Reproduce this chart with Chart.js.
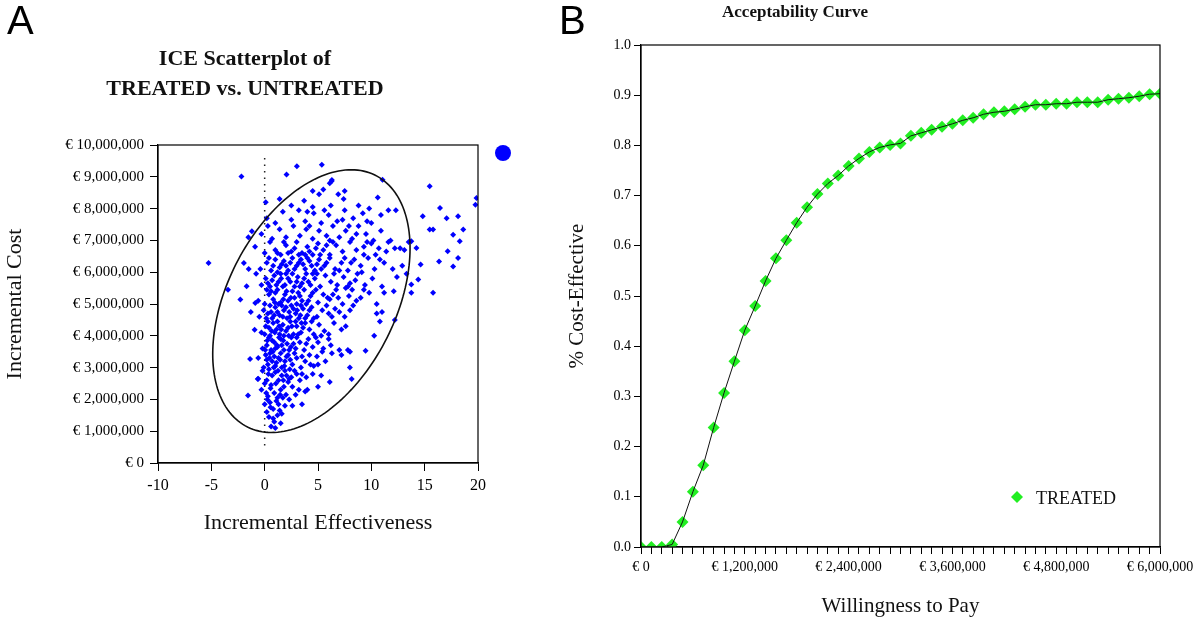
<!DOCTYPE html>
<html>
<head>
<meta charset="utf-8">
<script src="https://cdn.jsdelivr.net/npm/chart.js"></script>
<style>
  body { margin: 0; background: #fff; width: 1200px; height: 621px; overflow: hidden; position: relative; }
  canvas { position: absolute; top: 0; }
  .panel { position: absolute; font-family: "Liberation Sans", Arial, sans-serif; font-size: 40px; line-height: 40px; color: #000; }
  .title { position: absolute; font-family: "Liberation Serif", "Times New Roman", serif; font-weight: bold; color: #111; text-align: center; }
</style>
</head>
<body>
<canvas id="iceChart" width="560" height="621" style="left:0"></canvas>
<canvas id="ceacChart" width="640" height="621" style="left:560px"></canvas>

<div class="panel" style="left:7px;top:0">A</div>
<div class="panel" style="left:559px;top:0">B</div>
<div class="title" style="left:45px;top:43px;width:400px;font-size:22px;line-height:30px">ICE Scatterplot of<br>TREATED vs. UNTREATED</div>
<div class="title" style="left:645px;top:2px;width:300px;font-size:17px;line-height:20px">Acceptability Curve</div>

<script>
// ---- panel A: incremental effectiveness vs incremental cost (cost in € millions)
var icePairs = [
  // outliers
  [-2.18,9.01],[2.05,9.07],[3.02,9.33],[5.36,9.38],[6.27,8.86],[6.1,8.8],[11.05,8.91],[15.47,8.70],
  [19.86,8.33],[19.76,8.12],[16.44,8.02],[14.82,7.76],[17.06,7.70],[18.13,7.76],[15.47,7.34],[15.79,7.34],
  [17.67,7.18],[18.62,7.34],[18.29,6.97],[17.16,6.66],[18.13,6.45],[17.67,6.18],[16.35,6.34],[14.23,6.76],
  [13.75,6.97],[14.62,6.24],[14.4,5.77],[13.75,5.61],[13.75,5.35],[15.79,5.35],[12.2,4.5],[10.27,4.0],
  [9.46,3.53],[7.99,3.0],[8.16,2.64],[8.0,3.5],[-5.26,6.29],[-3.44,5.45],[-2.28,5.14],[-1.69,5.56],
  [-1.95,6.29],[-1.5,6.1],[-1.53,7.1],[-1.2,7.29],[-1.37,3.27],[-1.56,2.12],[-0.65,2.64],[-0.88,5.03],
  [-0.94,4.19],
  // main cloud
  [0.6,1.15],[1.0,1.1],[0.9,1.3],[1.5,1.25],[0.4,1.45],[1.2,1.5],[0.8,1.4],
  [0.2,1.6],[0.8,1.7],[1.4,1.65],[1.9,1.8],[0.5,1.9],[1.1,1.95],[2.6,1.8],[0.0,1.85],[1.6,1.55],[3.5,1.85],
  [0.3,2.1],[0.9,2.2],[1.5,2.3],[2.0,2.15],[2.6,2.4],[0.6,2.45],[1.2,2.05],[1.8,2.4],[3.2,2.3],[4.0,2.3],
  [5.0,2.4],[-0.3,2.3],[0.0,2.5],[2.3,2.0],[3.8,2.25],
  [-0.6,2.65],[0.2,2.6],[0.7,2.75],[1.3,2.6],[1.9,2.9],[2.5,2.7],[3.0,2.8],[3.5,2.8],[4.5,2.8],[5.3,2.75],
  [0.4,2.95],[1.0,2.85],[1.6,2.75],[2.2,2.55],[2.8,2.9],[6.1,2.55],[-0.2,2.9],
  [-0.1,3.0],[0.3,3.1],[0.7,3.2],[1.0,3.05],[1.3,3.3],[1.6,3.0],[1.9,3.2],[2.2,3.4],[2.6,3.1],[3.0,3.3],
  [3.4,3.0],[3.8,3.2],[4.2,3.4],[5.0,3.1],[5.7,3.2],[0.1,3.4],[0.5,3.45],[0.9,3.35],[1.5,3.45],[2.4,3.25],
  [2.8,3.45],[4.6,3.05],[6.3,3.45],[7.2,3.4],[-0.6,3.3],[1.1,3.15],[0.2,3.25],
  [-0.2,3.6],[0.2,3.7],[0.6,3.55],[0.9,3.8],[1.2,3.65],[1.5,3.9],[1.8,3.55],[2.1,3.75],[2.5,3.95],[2.9,3.6],
  [3.3,3.8],[3.7,3.55],[4.1,3.9],[4.5,3.65],[5.0,3.8],[5.5,3.6],[6.2,3.7],[7.0,3.55],[7.8,3.55],[0.4,3.95],
  [1.0,3.6],[1.6,3.7],[2.3,3.55],[3.0,3.95],[3.9,3.75],[0.7,3.85],[1.35,3.95],[2.7,3.75],[4.8,3.95],
  [-0.3,4.1],[0.1,4.3],[0.5,4.0],[0.8,4.4],[1.1,4.2],[1.4,4.05],[1.7,4.35],[2.0,4.15],[2.4,4.45],[2.7,4.05],
  [3.0,4.3],[3.4,4.1],[3.8,4.4],[4.2,4.2],[4.6,4.05],[5.1,4.35],[5.6,4.15],[6.5,4.4],[7.2,4.2],[7.6,4.3],
  [0.3,4.45],[1.2,4.45],[2.2,4.25],[3.6,4.25],[4.4,4.45],[6.0,4.05],[1.8,4.0],[2.9,4.45],
  [-0.5,4.6],[-0.1,4.8],[0.3,4.7],[0.7,4.55],[1.0,4.9],[1.4,4.65],[1.8,4.8],[2.1,4.55],[2.5,4.95],[2.9,4.7],
  [3.2,4.55],[3.6,4.85],[4.0,4.65],[4.4,4.9],[4.9,4.6],[5.4,4.8],[6.0,4.7],[6.6,4.85],[7.0,4.75],[7.5,4.6],
  [8.3,4.95],[10.5,4.7],[11.0,4.75],[10.8,4.45],[0.5,4.95],[1.6,4.95],[2.3,4.75],[3.4,4.95],[4.6,4.55],
  [5.8,4.95],[8.0,4.8],[-1.3,4.75],
  [-0.6,5.1],[0.0,5.0],[0.4,5.3],[0.8,5.15],[1.2,5.45],[1.5,5.05],[1.9,5.3],[2.2,5.1],[2.6,5.4],[3.0,5.0],
  [3.3,5.25],[3.7,5.45],[4.1,5.1],[4.5,5.35],[5.0,5.05],[5.5,5.3],[6.1,5.15],[6.7,5.45],[7.3,5.0],[7.9,5.25],
  [8.6,5.1],[9.3,5.45],[9.8,5.35],[10.5,5.0],[12.1,5.4],[0.2,5.45],[1.0,5.35],[2.8,5.2],[3.9,5.0],[4.8,5.45],
  [6.4,5.3],[8.2,5.45],[9.0,5.2],[11.2,5.35],
  [-0.3,5.6],[0.1,5.8],[0.5,5.55],[0.9,5.9],[1.3,5.7],[1.7,5.55],[2.0,5.95],[2.4,5.7],[2.8,5.55],[3.1,5.85],
  [3.5,5.65],[3.9,5.95],[4.3,5.6],[4.7,5.8],[5.2,5.55],[5.7,5.9],[6.2,5.7],[6.8,5.6],[7.4,5.85],[8.0,5.65],
  [8.7,5.95],[9.4,5.6],[10.1,5.8],[11.0,5.55],[12.4,5.85],[13.3,5.95],[-0.8,5.95],[1.5,5.95],[3.3,5.55],
  [4.9,5.95],[6.5,5.95],[7.8,5.55],
  [-0.4,6.1],[0.2,6.3],[0.6,6.05],[1.0,6.4],[1.4,6.15],[1.8,6.35],[2.2,6.05],[2.6,6.45],[3.0,6.2],[3.4,6.4],
  [3.8,6.1],[4.2,6.35],[4.7,6.05],[5.1,6.4],[5.6,6.2],[6.1,6.45],[6.6,6.1],[7.2,6.3],[7.8,6.05],[8.4,6.4],
  [9.0,6.2],[9.7,6.45],[10.3,6.1],[11.2,6.3],[12.0,6.1],[0.8,6.2],[2.4,6.3],[4.0,6.45],[5.8,6.3],[7.5,6.45],
  [10.8,6.4],[12.9,6.2],
  [-0.9,6.8],[0.0,6.6],[0.5,6.95],[1.0,6.7],[1.5,6.55],[2.0,6.85],[2.5,6.65],[3.0,6.95],[3.5,6.6],[4.0,6.8],
  [4.5,6.55],[5.0,6.9],[5.5,6.7],[6.1,6.55],[6.7,6.85],[7.3,6.65],[8.0,6.95],[8.6,6.7],[9.3,6.55],[10.0,6.9],
  [10.7,6.75],[11.6,6.95],[12.2,6.75],[12.7,6.75],[13.1,6.7],[1.8,6.95],[3.8,6.55],[6.4,6.95],[9.6,6.95],
  [-0.3,7.2],[0.7,7.05],[1.4,7.35],[2.0,7.1],[2.7,7.45],[3.3,7.15],[3.9,7.35],[4.5,7.05],[5.1,7.3],[5.8,7.15],
  [6.4,7.45],[7.0,7.1],[7.6,7.3],[8.2,7.05],[8.8,7.45],[9.5,7.2],[10.2,7.0],[10.9,7.3],[11.8,7.0],[13.5,6.95],
  [0.3,7.45],[4.2,7.45],[7.9,7.45],[6.1,7.0],
  [0.2,7.7],[1.0,7.55],[1.7,7.9],[2.5,7.65],[3.2,7.95],[3.8,7.6],[4.6,7.85],[5.3,7.55],[6.0,7.8],[6.8,7.6],
  [7.5,7.95],[8.3,7.7],[9.2,7.85],[10.0,7.55],[10.9,7.8],[11.6,7.95],[12.3,7.95],[4.0,7.9],[5.6,7.95],[9.6,7.6],
  [0.1,8.2],[1.4,8.3],[2.5,8.1],[3.7,8.25],[5.1,8.45],[6.9,8.45],[7.4,8.3],[8.8,8.1],[9.8,8.0],[10.6,8.35],
  [4.5,8.05],[6.2,8.1],
  [4.5,8.55],[5.5,8.6],[6.3,8.9],[7.5,8.55],
  // dense core
  [0.15,2.2],[0.55,2.35],[1.05,2.5],[1.45,2.15],[1.75,2.6],[2.05,2.75],[0.35,2.8],[0.85,3.0],[1.25,2.9],
  [1.85,3.05],[2.35,2.95],[0.05,3.55],[0.45,3.3],[0.75,3.5],[1.15,3.7],[1.45,3.25],[1.75,3.85],[2.05,3.35],
  [2.45,3.65],[0.25,3.85],[0.65,4.15],[0.95,4.1],[1.35,4.3],[1.55,4.2],[2.25,4.0],[2.55,4.3],[3.15,4.05],
  [3.45,4.4],[0.0,4.05],[0.4,4.25],[0.6,4.75],[0.9,4.65],[1.2,4.75],[1.7,4.6],[2.0,4.9],[2.4,4.6],[2.7,4.85],
  [3.05,4.8],[3.35,4.65],[3.8,4.55],[4.2,4.8],[0.15,4.55],[1.3,5.0],[1.75,5.15],[2.05,5.4],[2.45,5.2],
  [3.15,5.35],[3.5,5.1],[4.3,5.25],[0.6,5.4],[0.95,5.05],[1.1,5.6],[1.55,5.8],[1.9,5.6],[2.2,5.8],[2.6,5.95],
  [3.0,5.7],[3.7,5.8],[4.1,5.7],[4.5,5.95],[0.3,5.65],[0.7,5.75],[1.2,6.0],[1.6,6.25],[2.0,6.2],[2.8,6.1],
  [3.2,6.3],[3.6,6.25],[4.4,6.2],[4.9,6.25],[5.3,6.1],[0.4,6.45],[1.2,6.6],[2.2,6.6],[2.8,6.75],[3.2,6.55],
  [4.2,6.65],[4.8,6.75],[5.2,6.55],[5.8,6.85],[0.55,1.75],[1.3,1.85],[0.25,2.0],[1.7,2.05],[2.9,2.15],
  [2.3,2.65],[3.3,2.6],[3.9,2.7],[4.3,3.1],[4.9,3.35],[5.4,3.5],[3.5,3.35],[6.0,3.9],[5.3,4.0],[6.3,4.6],
  [5.9,5.2],[6.9,5.2],[7.6,5.5],[8.5,5.75],[9.1,6.0],[7.0,6.05],[8.1,6.3],[9.3,6.8],[10.4,6.55],[11.4,6.65],
  [8.6,7.2],[7.3,7.65]
];
var effTicks = [-10, 20];        // x range, step 5
var costTicksM = [0, 10];        // y range in € millions, step 1
var zeroLineX = [0, 0];          // dotted reference line at zero effectiveness
var zeroLineCostM = [0.55, 9.65];
// 95% confidence ellipse: centre and conjugate semi-axes in data units
var ellipseC = [4.38, 5.09];
var ellipseU = [9.25, 1.665];
var ellipseV = [0, 3.78];

// ---- panel B: acceptability curve (WTP in € thousands)
var wtpK = [0,120,240,360,480,600,720,840,960,1080,1200,1320,1440,1560,1680,1800,1920,2040,2160,2280,
  2400,2520,2640,2760,2880,3000,3120,3240,3360,3480,3600,3720,3840,3960,4080,4200,4320,4440,4560,4680,
  4800,4920,5040,5160,5280,5400,5520,5640,5760,5880,6000];
var pCostEff = [0.0,0.0,0.0,0.005,0.05,0.11,0.163,0.238,0.307,0.37,0.432,0.48,0.53,0.575,0.611,0.646,
  0.677,0.703,0.724,0.74,0.759,0.774,0.787,0.796,0.801,0.804,0.819,0.825,0.831,0.837,0.843,0.85,0.855,
  0.862,0.866,0.868,0.872,0.877,0.881,0.881,0.883,0.883,0.886,0.886,0.886,0.891,0.893,0.895,0.898,0.902,0.903];
var seriesName = 'TREATED';

function euro(v) {
  return '\u20AC ' + Math.round(v).toString().replace(/\B(?=(\d{3})+(?!\d))/g, ',');
}

var serif = '"Liberation Serif", "Times New Roman", serif';

// box round the plot area
var framePlugin = {
  id: 'frame',
  afterDatasetsDraw: function(chart) {
    var a = chart.chartArea, ctx = chart.ctx;
    ctx.save();
    ctx.strokeStyle = '#000';
    ctx.lineWidth = 1.2;
    ctx.strokeRect(a.left, a.top, a.right - a.left, a.bottom - a.top);
    ctx.restore();
  }
};

var ellipsePlugin = {
  id: 'ellipse',
  afterDatasetsDraw: function(chart) {
    var xs = chart.scales.x, ys = chart.scales.y, ctx = chart.ctx;
    ctx.save();
    ctx.strokeStyle = '#111';
    ctx.lineWidth = 1.6;
    ctx.beginPath();
    for (var i = 0; i <= 180; i++) {
      var t = i / 180 * Math.PI * 2;
      var px = xs.getPixelForValue(ellipseC[0] + ellipseU[0] * Math.cos(t) + ellipseV[0] * Math.sin(t));
      var py = ys.getPixelForValue(ellipseC[1] + ellipseU[1] * Math.cos(t) + ellipseV[1] * Math.sin(t));
      if (i == 0) ctx.moveTo(px, py); else ctx.lineTo(px, py);
    }
    ctx.closePath();
    ctx.stroke();
    // legend marker for the scatter series, sits right of the plot
    ctx.fillStyle = '#0000ff';
    ctx.beginPath();
    ctx.arc(chart.chartArea.right + 25, chart.chartArea.top + 8, 8, 0, Math.PI * 2);
    ctx.fill();
    ctx.restore();
  }
};

var legendB = {
  id: 'legendB',
  afterDatasetsDraw: function(chart) {
    var a = chart.chartArea, ctx = chart.ctx;
    var x = a.right - 143, y = a.bottom - 50;
    ctx.save();
    ctx.fillStyle = '#22ee22';
    ctx.beginPath();
    ctx.moveTo(x, y - 6); ctx.lineTo(x + 6, y); ctx.lineTo(x, y + 6); ctx.lineTo(x - 6, y);
    ctx.closePath();
    ctx.fill();
    ctx.fillStyle = '#111';
    ctx.font = '18px ' + serif;
    ctx.textBaseline = 'middle';
    ctx.fillText(seriesName, x + 19, y + 2);
    ctx.restore();
  }
};

new Chart(document.getElementById('iceChart'), {
  type: 'scatter',
  data: {
    datasets: [{
      data: icePairs.map(function(p) { return {x: p[0], y: p[1]}; }),
      pointStyle: 'rectRot',
      pointRadius: 3,
      backgroundColor: '#0000ff',
      borderWidth: 0
    }, {
      data: zeroLineX.map(function(x, i) { return {x: x, y: zeroLineCostM[i]}; }),
      showLine: true,
      pointRadius: 0,
      borderColor: '#222',
      borderWidth: 1.5,
      borderDash: [1.5, 5]
    }]
  },
  options: {
    responsive: false,
    animation: false,
    events: [],
    layout: { padding: { top: 145, right: 82, bottom: 0, left: 0 } },
    plugins: { legend: { display: false }, tooltip: { enabled: false } },
    scales: {
      x: {
        min: effTicks[0], max: effTicks[1],
        afterFit: function(s) { s.height = 158; },
        ticks: { stepSize: 5, color: '#000', padding: 5, font: { family: serif, size: 16 } },
        grid: { drawOnChartArea: false, tickLength: 8, color: '#000' },
        border: { color: '#000', width: 1.2 },
        title: { display: true, text: 'Incremental Effectiveness', color: '#111',
                 font: { family: serif, size: 22 }, padding: { bottom: 85 } }
      },
      y: {
        min: costTicksM[0], max: costTicksM[1],
        afterFit: function(s) { s.width = 158; },
        ticks: { stepSize: 1, color: '#000', padding: 6, font: { family: serif, size: 15 },
                 callback: function(v) { return euro(v * 1e6); } },
        grid: { drawOnChartArea: false, tickLength: 8, color: '#000' },
        border: { color: '#000', width: 1.2 },
        title: { display: true, text: 'Incremental Cost', color: '#111',
                 font: { family: serif, size: 22 }, padding: { top: 2 } }
      }
    }
  },
  plugins: [framePlugin, ellipsePlugin]
});

var ceacPts = wtpK.map(function(w, i) { return {x: w, y: pCostEff[i]}; });

new Chart(document.getElementById('ceacChart'), {
  type: 'scatter',
  data: {
    datasets: [{
      label: seriesName,
      data: ceacPts,
      pointStyle: 'rectRot',
      pointRadius: 6,
      backgroundColor: '#22ee22',
      borderWidth: 0,
      order: 1
    }, {
      label: 'line',
      data: ceacPts,
      showLine: true,
      pointRadius: 0,
      borderColor: '#111',
      borderWidth: 1,
      order: 0
    }]
  },
  options: {
    responsive: false,
    animation: false,
    events: [],
    layout: { padding: { top: 45, right: 40, bottom: 0, left: 0 } },
    plugins: { legend: { display: false }, tooltip: { enabled: false } },
    scales: {
      x: {
        min: 0, max: 6000,
        afterFit: function(s) { s.height = 74; },
        ticks: { stepSize: 120, autoSkip: false, maxRotation: 0, minRotation: 0, color: '#000', padding: 5,
                 font: { family: serif, size: 14 },
                 callback: function(v) { return Math.round(v) % 1200 === 0 ? euro(v * 1000) : ''; } },
        grid: { drawOnChartArea: false, tickLength: 7, color: '#000' },
        border: { color: '#000', width: 1.2 },
        title: { display: true, text: 'Willingness to Pay', color: '#111',
                 font: { family: serif, size: 21 }, padding: { bottom: 2 } }
      },
      y: {
        min: 0, max: 1,
        afterFit: function(s) { s.width = 81; },
        ticks: { stepSize: 0.1, color: '#000', padding: 3, font: { family: serif, size: 14 },
                 callback: function(v) { return v.toFixed(1); } },
        grid: { drawOnChartArea: false, tickLength: 7, color: '#000' },
        border: { color: '#000', width: 1.2 },
        title: { display: true, text: '% Cost-Effective', color: '#111',
                 font: { family: serif, size: 21 }, padding: { top: 5 } }
      }
    }
  },
  plugins: [framePlugin, legendB]
});
</script>
</body>
</html>
